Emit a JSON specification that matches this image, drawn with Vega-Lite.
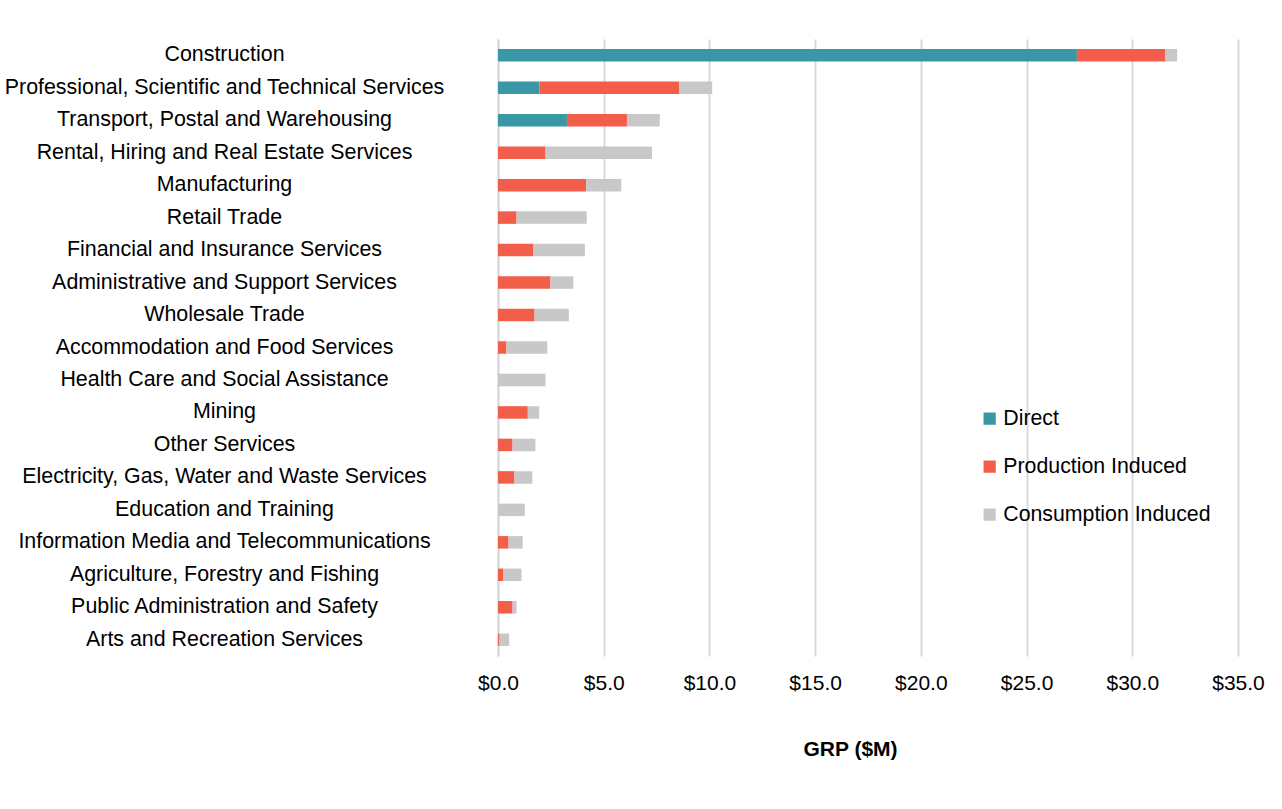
{
  "$schema": "https://vega.github.io/schema/vega-lite/v6.json",
  "width": 740,
  "height": 617,
  "autosize": {"type": "none"},
  "padding": {"left": 498, "top": 39, "right": 44, "bottom": 153},
  "background": "white",
  "data": {
    "values": [
      {"industry": "Construction", "type": "Direct", "value": 27.38},
      {"industry": "Construction", "type": "Production Induced", "value": 4.19},
      {"industry": "Construction", "type": "Consumption Induced", "value": 0.55},
      {"industry": "Professional, Scientific and Technical Services", "type": "Direct", "value": 1.96},
      {"industry": "Professional, Scientific and Technical Services", "type": "Production Induced", "value": 6.60},
      {"industry": "Professional, Scientific and Technical Services", "type": "Consumption Induced", "value": 1.57},
      {"industry": "Transport, Postal and Warehousing", "type": "Direct", "value": 3.26},
      {"industry": "Transport, Postal and Warehousing", "type": "Production Induced", "value": 2.84},
      {"industry": "Transport, Postal and Warehousing", "type": "Consumption Induced", "value": 1.55},
      {"industry": "Rental, Hiring and Real Estate Services", "type": "Production Induced", "value": 2.25},
      {"industry": "Rental, Hiring and Real Estate Services", "type": "Consumption Induced", "value": 5.03},
      {"industry": "Manufacturing", "type": "Production Induced", "value": 4.17},
      {"industry": "Manufacturing", "type": "Consumption Induced", "value": 1.66},
      {"industry": "Retail Trade", "type": "Production Induced", "value": 0.88},
      {"industry": "Retail Trade", "type": "Consumption Induced", "value": 3.32},
      {"industry": "Financial and Insurance Services", "type": "Production Induced", "value": 1.68},
      {"industry": "Financial and Insurance Services", "type": "Consumption Induced", "value": 2.43},
      {"industry": "Administrative and Support Services", "type": "Production Induced", "value": 2.48},
      {"industry": "Administrative and Support Services", "type": "Consumption Induced", "value": 1.08},
      {"industry": "Wholesale Trade", "type": "Production Induced", "value": 1.73},
      {"industry": "Wholesale Trade", "type": "Consumption Induced", "value": 1.62},
      {"industry": "Accommodation and Food Services", "type": "Production Induced", "value": 0.40},
      {"industry": "Accommodation and Food Services", "type": "Consumption Induced", "value": 1.93},
      {"industry": "Health Care and Social Assistance", "type": "Consumption Induced", "value": 2.25},
      {"industry": "Mining", "type": "Production Induced", "value": 1.41},
      {"industry": "Mining", "type": "Consumption Induced", "value": 0.54},
      {"industry": "Other Services", "type": "Production Induced", "value": 0.69},
      {"industry": "Other Services", "type": "Consumption Induced", "value": 1.08},
      {"industry": "Electricity, Gas, Water and Waste Services", "type": "Production Induced", "value": 0.78},
      {"industry": "Electricity, Gas, Water and Waste Services", "type": "Consumption Induced", "value": 0.84},
      {"industry": "Education and Training", "type": "Consumption Induced", "value": 1.27},
      {"industry": "Information Media and Telecommunications", "type": "Production Induced", "value": 0.50},
      {"industry": "Information Media and Telecommunications", "type": "Consumption Induced", "value": 0.67},
      {"industry": "Agriculture, Forestry and Fishing", "type": "Production Induced", "value": 0.26},
      {"industry": "Agriculture, Forestry and Fishing", "type": "Consumption Induced", "value": 0.85},
      {"industry": "Public Administration and Safety", "type": "Production Induced", "value": 0.69},
      {"industry": "Public Administration and Safety", "type": "Consumption Induced", "value": 0.19},
      {"industry": "Arts and Recreation Services", "type": "Production Induced", "value": 0.07},
      {"industry": "Arts and Recreation Services", "type": "Consumption Induced", "value": 0.46}
    ]
  },
  "mark": {"type": "bar"},
  "encoding": {
    "y": {
      "field": "industry",
      "type": "nominal",
      "sort": [
        "Construction",
        "Professional, Scientific and Technical Services",
        "Transport, Postal and Warehousing",
        "Rental, Hiring and Real Estate Services",
        "Manufacturing",
        "Retail Trade",
        "Financial and Insurance Services",
        "Administrative and Support Services",
        "Wholesale Trade",
        "Accommodation and Food Services",
        "Health Care and Social Assistance",
        "Mining",
        "Other Services",
        "Electricity, Gas, Water and Waste Services",
        "Education and Training",
        "Information Media and Telecommunications",
        "Agriculture, Forestry and Fishing",
        "Public Administration and Safety",
        "Arts and Recreation Services"
      ],
      "scale": {"paddingInner": 0.615, "paddingOuter": 0.3075},
      "axis": {
        "title": null,
        "ticks": false,
        "domain": true,
        "domainColor": "#D9D9D9",
        "domainWidth": 2,
        "labelAlign": "center",
        "labelPadding": 274,
        "labelFont": "Liberation Sans",
        "labelFontSize": 21.4,
        "labelColor": "#000000",
        "labelLimit": 500
      }
    },
    "x": {
      "field": "value",
      "type": "quantitative",
      "aggregate": "sum",
      "stack": "zero",
      "scale": {"domain": [0, 35], "nice": false},
      "axis": {
        "title": "GRP ($M)",
        "values": [0, 5, 10, 15, 20, 25, 30, 35],
        "labelExpr": "'$' + format(datum.value, '.1f')",
        "grid": true,
        "gridColor": "#D9D9D9",
        "gridWidth": 2,
        "domain": false,
        "ticks": false,
        "labelBound": false,
        "labelFlush": false,
        "labelPadding": 16,
        "labelFont": "Liberation Sans",
        "labelFontSize": 21,
        "labelColor": "#000000",
        "titleFont": "Liberation Sans",
        "titleFontSize": 21,
        "titleFontWeight": "bold",
        "titleColor": "#000000",
        "titlePadding": 45,
        "titleX": 352
      }
    },
    "color": {
      "field": "type",
      "type": "nominal",
      "scale": {
        "domain": ["Direct", "Production Induced", "Consumption Induced"],
        "range": ["#3A97A5", "#F35E4A", "#C8C8C8"]
      },
      "legend": {
        "title": null,
        "orient": "none",
        "legendX": 481,
        "legendY": 369,
        "symbolType": "square",
        "symbolSize": 150,
        "symbolStrokeWidth": 0,
        "labelFont": "Liberation Sans",
        "labelFontSize": 21.3,
        "labelColor": "#000000",
        "labelOffset": 3,
        "rowPadding": 26,
        "labelLimit": 400
      }
    },
    "order": {"field": "order", "type": "quantitative"}
  },
  "transform": [
    {"calculate": "datum.type === 'Direct' ? 0 : datum.type === 'Production Induced' ? 1 : 2", "as": "order"}
  ],
  "config": {"view": {"stroke": null}}
}
